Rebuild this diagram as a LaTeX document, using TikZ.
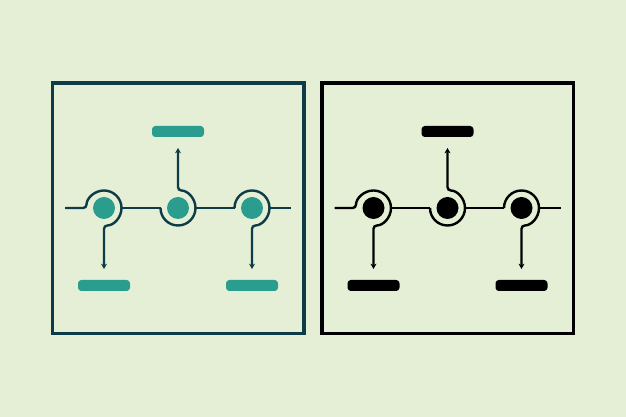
\documentclass[tikz,border=0pt]{standalone}
\usetikzlibrary{arrows.meta}
\definecolor{bg}{HTML}{E4EFD5}
\definecolor{tealc}{HTML}{2A9D8F}
\definecolor{darkc}{HTML}{0E3B48}
\begin{document}
\begin{tikzpicture}[x=0.75pt,y=0.75pt,
  frame/.style={line width=2.6pt},
  conn/.style={line width=1.8pt, rounded corners=2.5pt},
  arr/.style={conn, -{Stealth[length=4pt,width=4.5pt]}, shorten >=8.25pt},
  dot/.style={circle, minimum size=16.5pt, inner sep=0pt, outer sep=0pt},
  ring/.style={circle, minimum size=26.25pt, inner sep=0pt, outer sep=0pt},
  bar/.style={rectangle, rounded corners=2.5pt, minimum width=39pt, minimum height=8.25pt, inner sep=0pt, outer sep=0pt}]
\fill[bg] (0,0) rectangle (626,417);
\useasboundingbox (0,0) rectangle (626,417);
\foreach \s/\fc/\dc/\p in {0/darkc/tealc/a, 269.5/black/black/b}{
  \begin{scope}[xshift=\s*0.75pt]
    \draw[frame, \fc] (52.5,83.5) rectangle (304,334);
    \node[dot, fill=\dc] (\p d1) at (104,209) {};
    \node[dot, fill=\dc] (\p d2) at (178,209) {};
    \node[dot, fill=\dc] (\p d3) at (252,209) {};
    \node[ring] (\p r1) at (104,209) {};
    \node[ring] (\p r2) at (178,209) {};
    \node[ring] (\p r3) at (252,209) {};
    \node[bar, fill=\dc] (\p b1) at (104,131.5) {};
    \node[bar, fill=\dc] (\p b2) at (178,285.5) {};
    \node[bar, fill=\dc] (\p b3) at (252,131.5) {};
    \coordinate (\p l0) at (65,209);
    \coordinate (\p l1) at (291,209);
    \draw[arr, \fc] (\p l0) -- (\p r1.west) arc[start angle=180, end angle=-90, radius=17.5] -- (\p b1.north);
    \draw[conn, \fc] (\p r1.east) -- (\p r2.west);
    \draw[arr, \fc] (\p r2.west) arc[start angle=180, end angle=450, radius=17.5] -- (\p b2.south);
    \draw[conn, \fc] (\p r2.east) -- (\p r3.west);
    \draw[arr, \fc] (\p r3.west) arc[start angle=180, end angle=-90, radius=17.5] -- (\p b3.north);
    \draw[conn, \fc] (\p r3.east) -- (\p l1);
  \end{scope}
}
\end{tikzpicture}
\end{document}
